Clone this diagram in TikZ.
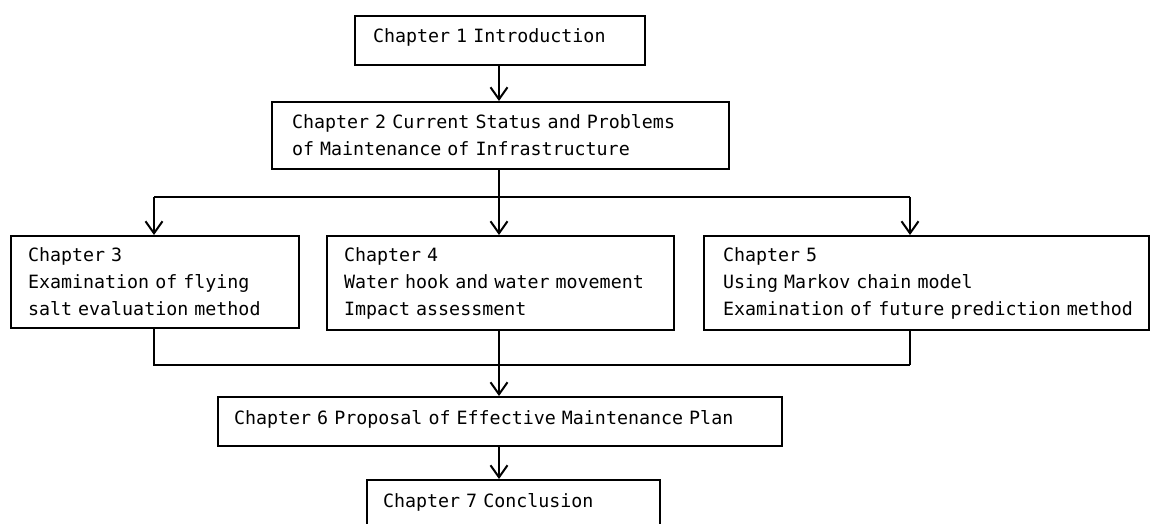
\documentclass[tikz,border=0pt]{standalone}
\usepackage{fontspec}
\setmonofont{DejaVu Sans Mono}
\usetikzlibrary{arrows.meta}
\tikzset{
  chbox/.style={draw=black, line width=2pt, rectangle, align=left, anchor=north west,
    font=\ttfamily\fontsize{18.3}{27}\selectfont, inner ysep=0pt},
  conn/.style={draw=black, line width=2pt},
  arr/.style={conn, -{Straight Barb[length=12pt, width=17pt, line width=2pt]}},
}
\begin{document}
\begin{tikzpicture}[x=1pt, y=-1pt]
\fill[white] (0,0) rectangle (1150,523);
\useasboundingbox (0,0) rectangle (1150,523);
\clip (0,0) rectangle (1150,523);
% boxes (top-left corners, widths, heights in px)
\node[chbox, inner xsep=18pt, text width=254pt, minimum height=49pt, text depth=9pt] (b1) at (354,15)
  {\mbox{Chapter 1 Introduction}};
\node[chbox, inner xsep=20pt, text width=417pt, minimum height=67pt] (b2) at (271,101)
  {\mbox{Chapter 2 Current Status and Problems}\\\mbox{of Maintenance of Infrastructure}};
\node[chbox, inner xsep=17pt, text width=254pt, minimum height=92pt] (b3) at (10,235)
  {\mbox{Chapter 3}\\\mbox{Examination of flying}\\\mbox{salt evaluation method}};
\node[chbox, inner xsep=17pt, text width=313pt, minimum height=94pt] (b4) at (326,235)
  {\mbox{Chapter 4}\\\mbox{Water hook and water movement}\\\mbox{Impact assessment}};
\node[chbox, inner xsep=19pt, text width=407pt, minimum height=94pt] (b5) at (703,235)
  {\mbox{Chapter 5}\\\mbox{Using Markov chain model}\\\mbox{Examination of future prediction method}};
\node[chbox, inner xsep=16pt, text width=532pt, minimum height=49pt, text depth=9pt] (b6) at (217,396)
  {\mbox{Chapter 6 Proposal of Effective Maintenance Plan}};
\node[chbox, inner xsep=16pt, text width=261pt, minimum height=49pt, text depth=9pt] (b7) at (366,479)
  {\mbox{Chapter 7 Conclusion}};
% junction points
\coordinate (jt) at (499,197);
\coordinate (jl) at (154,197);
\coordinate (jr) at (910,197);
\coordinate (jb) at (499,365);
\coordinate (jbr) at (910,365);
% connectors
\draw[arr] (b1.south -| jt) -- (b2.north -| jt);
\draw[conn] (b2.south -| jt) -- (jt);
\draw[conn] (jl) -- (jr);
\draw[arr] (jl) -- (b3.north -| jl);
\draw[arr] (jt) -- (b4.north -| jt);
\draw[arr] (jr) -- (b5.north -| jr);
\draw[conn] (b3.south -| jl) |- (jbr);
\draw[conn] (b5.south -| jbr) -- (jbr);
\draw[arr] (b4.south -| jb) -- (b6.north -| jb);
\draw[arr] (b6.south -| jb) -- (b7.north -| jb);
\end{tikzpicture}
\end{document}
